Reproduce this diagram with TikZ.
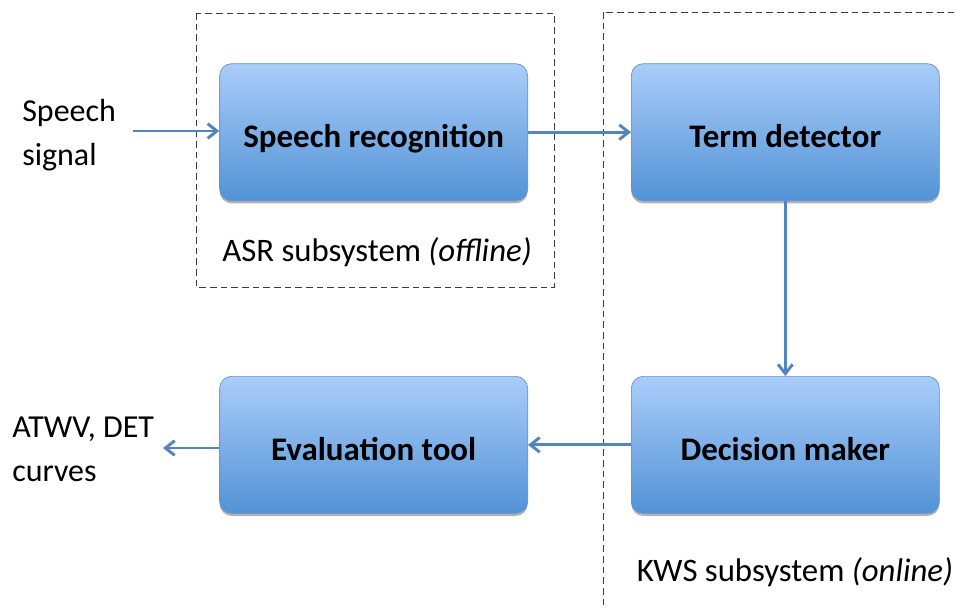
\documentclass[tikz,border=0pt]{standalone}
\usepackage{fontspec}
\setmainfont{Carlito}
\usepackage{tikz}
\usetikzlibrary{matrix,arrows.meta,shadows}
\usetikzlibrary{calc}

\definecolor{boxtop}{RGB}{170,205,250}
\definecolor{boxbot}{RGB}{82,147,214}
\definecolor{boxline}{RGB}{95,145,205}
\definecolor{flowblue}{RGB}{84,132,190}
\definecolor{dashgray}{RGB}{60,60,60}

\tikzset{
	block/.style={rectangle, rounded corners=9pt, draw=boxline, line width=0.5pt,
		top color=boxtop, bottom color=boxbot, minimum width=231pt, minimum height=102.75pt,
		font=\fontsize{24.7}{29}\selectfont\bfseries, text height=23pt, text depth=0pt,
		drop shadow={shadow xshift=0pt, shadow yshift=-2pt, opacity=0.3, fill=black}},
	flow/.style={draw=flowblue, line width=2.2pt, -{Straight Barb[length=7pt,width=11pt]}},
	subsys/.style={draw=dashgray, line width=0.7pt, dash pattern=on 5pt off 3pt},
	plain/.style={font=\fontsize{24}{33}\selectfont, align=left, inner sep=0pt},
	sublabel/.style={font=\fontsize{24.6}{30}\selectfont, inner sep=0pt}
}

\begin{document}
\begin{tikzpicture}[x=0.75pt,y=-0.75pt]
		\useasboundingbox (0,0) rectangle (956,607);
		% subsystems
		\draw[subsys] (196,13) rectangle (554,287);
		\draw[subsys] (603,12) rectangle (1000,660);
		%\matrix(m)[matrix of nodes, row sep=8em, column sep=4em]
		\matrix(m)[matrix of nodes, nodes={block}, row sep=131.25pt, column sep=77.25pt] at (579.5,288.5)
		{
			Speech recognition & Term detector \\
			Evaluation tool & Decision maker \\
		};
		\node[sublabel] (asr) at (377,252) {ASR subsystem \textit{(offline)}};
		\node[sublabel] (kws) at (795,572) {KWS subsystem \textit{(online)}};
		\node[plain, anchor=west] (sig) at (22,135) {Speech\\signal};
		\node[plain, anchor=west] (res) at (12,449) {ATWV, DET\\curves};
		\coordinate (in) at (133,131);
		\coordinate (out) at (163,448);
		\path
		(in) edge[flow] (in -| m-1-1.west)
		(m-1-1) edge[flow] (m-1-2)
		(m-1-2) edge[flow] (m-2-2)
		(m-2-2) edge[flow] (m-2-1)
		(out -| m-2-1.west) edge[flow] (out);
		\end{tikzpicture}
\end{document}
